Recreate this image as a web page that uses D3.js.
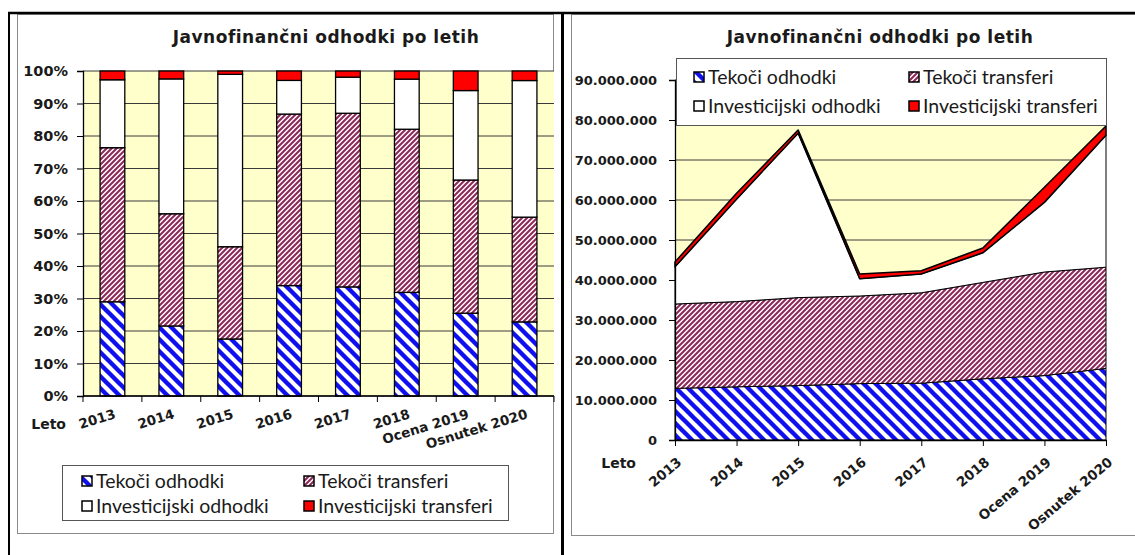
<!DOCTYPE html>
<html>
<meta charset="utf-8">
<style>
body { margin: 0; background: #fff; }
svg { display: block; }
.title { font: bold 17px "DejaVu Sans"; letter-spacing: 0.5px; fill: #1a1a1a; }
.tick text, .lbl { font: bold 13.5px "DejaVu Sans"; fill: #1a1a1a; }
.legend text { font: 19.5px Lato; fill: #1a1a1a; }
</style>
<body>
<svg width="1135" height="555"></svg>
<script src="https://d3js.org/d3.v7.min.js"></script>
<script>

// values (EUR)
var years = ["2013", "2014", "2015", "2016", "2017", "2018", "Ocena 2019", "Osnutek 2020"];
var tekociOdhodki = [12900000, 13300000, 13600000, 14100000, 14200000, 15300000, 16100000, 17900000];
var tekociTransferi = [21100000, 21300000, 22000000, 21900000, 22600000, 24100000, 25900000, 25300000];
var investicijskiOdhodki = [9300000, 25600000, 41100000, 4300000, 4700000, 7400000, 17400000, 33000000];
var investicijskiTransferi = [1200000, 1500000, 800000, 1200000, 800000, 1200000, 3800000, 2300000];
var seriesNames = ["Tekoči odhodki", "Tekoči transferi", "Investicijski odhodki", "Investicijski transferi"];
var pctTicks = [0, 0.1, 0.2, 0.3, 0.4, 0.5, 0.6, 0.7, 0.8, 0.9, 1];
var amountTicks = [0, 10000000, 20000000, 30000000, 40000000, 50000000, 60000000, 70000000, 80000000, 90000000];

var keys = ["to", "tt", "io", "it"];
var rows = years.map(function(y, i) {
  return { year: y, to: tekociOdhodki[i], tt: tekociTransferi[i], io: investicijskiOdhodki[i], it: investicijskiTransferi[i] };
});
var fills = ["url(#blueHatch)", "url(#pinkHatch)", "#fff", "#ff0000"];

var svg = d3.select("svg");

// hatch patterns
var defs = svg.append("defs");
var bp = defs.append("pattern").attr("id", "blueHatch")
    .attr("patternUnits", "userSpaceOnUse").attr("width", 12).attr("height", 12);
bp.append("rect").attr("width", 12).attr("height", 12).attr("fill", "#fff");
bp.append("path").attr("d", "M0,0L12,12M-3,9L3,15M9,-3L15,3")
    .attr("stroke", "#1010ee").attr("stroke-width", 4.4);
var pp = defs.append("pattern").attr("id", "pinkHatch")
    .attr("patternUnits", "userSpaceOnUse").attr("width", 5).attr("height", 5);
pp.append("rect").attr("width", 5).attr("height", 5).attr("fill", "#fff");
pp.append("path").attr("d", "M0,5L5,0M-1,1L1,-1M4,6L6,4")
    .attr("stroke", "#8c2a5a").attr("stroke-width", 2.1);

// page frame (table borders + chart borders)
svg.append("rect").attr("x", 17.5).attr("y", 14.5).attr("width", 536).attr("height", 519)
    .attr("fill", "#fff").attr("stroke", "#8a8a8a");
svg.append("rect").attr("x", 571.5).attr("y", 14.5).attr("width", 570).attr("height", 521)
    .attr("fill", "#fff").attr("stroke", "#8a8a8a");
svg.append("line").attr("x1", 8).attr("x2", 1135).attr("y1", 13).attr("y2", 13)
    .attr("stroke", "#000").attr("stroke-width", 2.5);
svg.append("line").attr("x1", 9).attr("x2", 9).attr("y1", 12).attr("y2", 555)
    .attr("stroke", "#000").attr("stroke-width", 2);
svg.append("line").attr("x1", 562.5).attr("x2", 562.5).attr("y1", 12).attr("y2", 555)
    .attr("stroke", "#000").attr("stroke-width", 3);

function drawLegend(g, x0, y0, w, h, rowsY, colX) {
  g.append("rect").attr("x", x0).attr("y", y0).attr("width", w).attr("height", h)
      .attr("fill", "#fff").attr("stroke", "#555");
  seriesNames.forEach(function(name, i) {
    var cx = colX[i % 2], cy = rowsY[Math.floor(i / 2)];
    g.append("rect").attr("x", cx).attr("y", cy - 5).attr("width", 10).attr("height", 10)
        .attr("fill", fills[i]).attr("stroke", "#000").attr("stroke-width", 1.5);
    g.append("text").attr("x", cx + 14).attr("y", cy).attr("dy", "0.36em").text(name);
  });
}

// ---------- left: 100% stacked columns ----------
var x = d3.scaleBand().domain(years).range([83, 554]).paddingInner(0.58).paddingOuter(0.29);
var y = d3.scaleLinear().domain([0, 1]).range([396, 71]);
var pctStack = d3.stack().keys(keys).offset(d3.stackOffsetExpand)(rows);

var left = svg.append("g");
left.append("rect").attr("x", 83).attr("y", y(1)).attr("width", 554 - 83).attr("height", y(0) - y(1))
    .attr("fill", "#ffffcc");
left.selectAll(".grid").data(pctTicks).enter().append("line")
    .attr("x1", 83).attr("x2", 554).attr("y1", y).attr("y2", y)
    .attr("stroke", "#3a3a3a");

left.selectAll(".layer").data(pctStack).enter().append("g")
    .attr("fill", function(d, i) { return fills[i]; })
  .selectAll("rect").data(function(d) { return d; }).enter().append("rect")
    .attr("x", function(d) { return x(d.data.year); })
    .attr("width", x.bandwidth())
    .attr("y", function(d) { return y(d[1]); })
    .attr("height", function(d) { return y(d[0]) - y(d[1]); })
    .attr("stroke", "#000").attr("stroke-width", 1.3);

left.append("g").attr("transform", "translate(83,0)")
    .call(d3.axisLeft(y).tickValues(pctTicks).tickFormat(d3.format(".0%")).tickSize(6).tickPadding(9))
    .call(function(g) {
      g.select(".domain").attr("stroke-width", 1.3);
      g.selectAll(".tick text").style("font-size", "14.5px");
    });

var boundaries = d3.range(years.length + 1).map(function(i) { return 83 + i * x.step(); });
left.append("line").attr("x1", 83).attr("x2", 554).attr("y1", 396).attr("y2", 396)
    .attr("stroke", "#000").attr("stroke-width", 1.5);
left.selectAll(".xt").data(boundaries).enter().append("line")
    .attr("x1", function(d) { return d; }).attr("x2", function(d) { return d; })
    .attr("y1", 396).attr("y2", 402).attr("stroke", "#000");
left.selectAll(".xl").data(years).enter().append("text").attr("class", "lbl")
    .attr("text-anchor", "end")
    .attr("transform", function(d) { return "translate(" + (x(d) + x.bandwidth() / 2 + 4) + ",418) rotate(-17)"; })
    .text(function(d) { return d; });
left.append("text").attr("class", "lbl").attr("x", 66).attr("y", 429).attr("text-anchor", "end")
    .style("font-size", "14px").text("Leto");
left.append("text").attr("class", "title").attr("x", 326).attr("y", 43).attr("text-anchor", "middle")
    .text("Javnofinančni odhodki po letih");
drawLegend(left.append("g").attr("class", "legend"), 62.5, 465.5, 446, 55, [481, 506], [82, 304]);

// ---------- right: stacked areas ----------
var x2 = d3.scalePoint().domain(years).range([675, 1106]);
var y2 = d3.scaleLinear().domain([0, 90000000]).range([440, 80]);
var sl = d3.formatLocale({ decimal: ",", thousands: ".", grouping: [3], currency: ["", " €"] });
var absStack = d3.stack().keys(keys)(rows);

var right = svg.append("g");
right.append("rect").attr("x", 675).attr("y", y2(90000000)).attr("width", 1106 - 675)
    .attr("height", y2(0) - y2(90000000)).attr("fill", "#ffffcc");
right.selectAll(".grid").data(amountTicks.slice(1)).enter().append("line")
    .attr("x1", 675).attr("x2", 1106).attr("y1", y2).attr("y2", y2)
    .attr("stroke", "#3a3a3a");

var area = d3.area()
    .x(function(d) { return x2(d.data.year); })
    .y0(function(d) { return y2(d[0]); })
    .y1(function(d) { return y2(d[1]); });
right.selectAll(".layer").data(absStack).enter().append("path")
    .attr("d", area)
    .attr("fill", function(d, i) { return fills[i]; })
    .attr("stroke", "#000")
    .attr("stroke-width", function(d, i) { return i == 3 ? 1.6 : 1; })
    .attr("stroke-linejoin", "round");

right.append("g").attr("transform", "translate(675,0)")
    .call(d3.axisLeft(y2).tickValues(amountTicks).tickFormat(sl.format(",")).tickSize(6).tickPadding(12))
    .call(function(g) {
      g.select(".domain").attr("stroke-width", 1.3);
      g.selectAll(".tick text").style("font-size", "13px");
    });
right.append("g").attr("transform", "translate(0,440)")
    .call(d3.axisBottom(x2).tickSize(6).tickSizeOuter(0))
    .call(function(g) {
      g.select(".domain").attr("stroke-width", 1.5);
      g.selectAll(".tick text")
          .attr("text-anchor", "end").attr("x", 0).attr("y", 0).attr("dy", "0.35em")
          .attr("transform", "translate(4,20) rotate(-40)");
    });
right.append("text").attr("class", "lbl").attr("x", 636).attr("y", 468).attr("text-anchor", "end")
    .style("font-size", "14px").text("Leto");
right.append("text").attr("class", "title").attr("x", 880).attr("y", 43).attr("text-anchor", "middle")
    .text("Javnofinančni odhodki po letih");
drawLegend(right.append("g").attr("class", "legend"), 676.5, 58.5, 430, 67, [77, 106], [694, 909]);

</script>
</body>
</html>
